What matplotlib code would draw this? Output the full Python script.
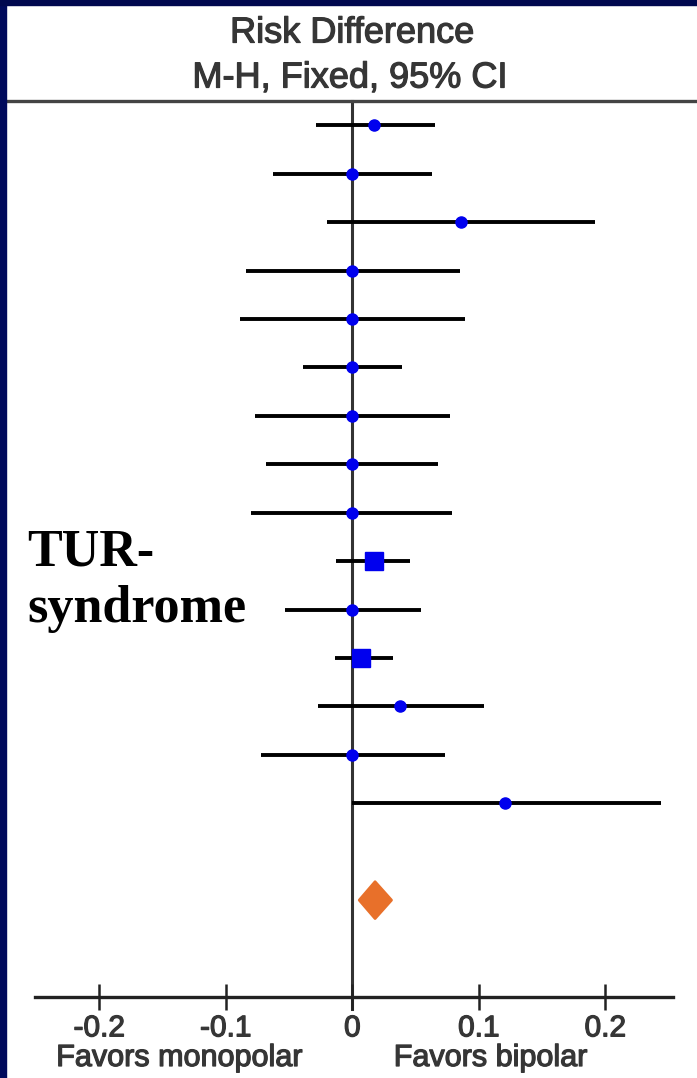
import numpy as np
import matplotlib.pyplot as plt
import matplotlib.patheffects as pe
from matplotlib.patches import Polygon, Rectangle
from matplotlib.lines import Line2D

# study estimates (risk difference) and 95% CI, top to bottom
rd = [0.017, 0.0, 0.086, 0.0, 0.0, 0.0, 0.0, 0.0, 0.0,
      0.017, 0.0, 0.007, 0.038, 0.0, 0.121]
ci_low = [-0.029, -0.063, -0.020, -0.084, -0.089, -0.039, -0.077, -0.068, -0.080,
          -0.013, -0.053, -0.014, -0.027, -0.072, 0.0]
ci_high = [0.065, 0.063, 0.192, 0.085, 0.089, 0.039, 0.077, 0.068, 0.079,
           0.046, 0.054, 0.032, 0.104, 0.073, 0.244]
heavy_studies = [9, 11]  # indices drawn with the larger squares

# pooled estimate
pooled = 0.018
pooled_low = 0.0055
pooled_high = 0.031

ticks = [-0.2, -0.1, 0.0, 0.1, 0.2]
tick_labels = ["-0.2", "-0.1", "0", "0.1", "0.2"]

W, H = 697, 1078
fig = plt.figure(figsize=(W / 100, H / 100), dpi=100)
fig.patch.set_facecolor("white")

sans = ["Liberation Sans", "DejaVu Sans"]
grey = "#363636"
thick = [pe.withStroke(linewidth=0.9, foreground=grey)]


def fx(px):
    return px / W


def fy(py):
    return 1 - py / H


# axes box: axis line from x=35 to 673 px, header line at 101 px, axis at 997 px
ax = fig.add_axes([fx(35), fy(997), fx(673) - fx(35), fy(101) - fy(997)])
ax.set_xlim(-0.2508, 0.2535)
ax.set_ylim(19, 0.5)
ax.set_facecolor("none")

for s in ["top", "left", "right"]:
    ax.spines[s].set_visible(False)
ax.spines["bottom"].set_linewidth(2.4)
ax.spines["bottom"].set_color("#222222")
ax.set_yticks([])
ax.set_xticks(ticks)
ax.set_xticklabels(tick_labels)
ax.tick_params(axis="x", direction="inout", length=19, width=1.8, color="#222222",
               pad=3, labelsize=21.5, labelcolor=grey)
for lab in ax.get_xticklabels():
    lab.set_family(sans)
    lab.set_path_effects(thick)

# line of no effect
ax.axvline(0, ymin=-0.013, ymax=1, color="#333333", lw=2.2, clip_on=False, zorder=1)

rows = np.arange(1, len(rd) + 1)
for i, r in enumerate(rows):
    ax.plot([ci_low[i], ci_high[i]], [r, r], color="black", lw=2.8,
            solid_capstyle="butt", zorder=2)
    if i in heavy_studies:
        ax.plot(rd[i], r, marker="s", ms=13, color="#0000ee", mec="#0000ee", zorder=3)
    else:
        ax.plot(rd[i], r, marker="o", ms=8, color="#0000ee", mec="#0000ee", zorder=3)

# pooled diamond
prow = len(rd) + 2
dia = Polygon([(pooled_low, prow), (pooled, prow - 0.38), (pooled_high, prow),
               (pooled, prow + 0.38)], closed=True, facecolor="#e8702a",
              edgecolor="#e8702a", lw=2, joinstyle="round", zorder=3)
ax.add_patch(dia)

# favours labels under the axis
lab_y = -(1058 - 997) / 896
ax.text(-0.137, lab_y, "Favors monopolar", transform=ax.get_xaxis_transform(),
        ha="center", va="center", fontsize=22, color=grey, family=sans,
        path_effects=thick)
ax.text(0.109, lab_y, "Favors bipolar", transform=ax.get_xaxis_transform(),
        ha="center", va="center", fontsize=22, color=grey, family=sans,
        path_effects=thick)

# header
fig.text(fx(352), fy(33), "Risk Difference", ha="center", va="center",
         fontsize=26, color=grey, family=sans, path_effects=thick)
fig.text(fx(350), fy(78), "M-H, Fixed, 95% CI", ha="center", va="center",
         fontsize=26, color=grey, family=sans, path_effects=thick)
fig.add_artist(Line2D([fx(7), 1], [fy(101), fy(101)], color="#444444", lw=2.4))

# side label
fig.text(fx(27), fy(565), "TUR-", ha="left", va="baseline", fontsize=37.5,
         fontweight="bold", color="black", family=["Liberation Serif", "DejaVu Serif"])
fig.text(fx(27), fy(622), "syndrome", ha="left", va="baseline", fontsize=37.5,
         fontweight="bold", color="black", family=["Liberation Serif", "DejaVu Serif"])

# navy slide border (left and top)
fig.add_artist(Rectangle((0, 0), fx(6), 1, transform=fig.transFigure,
                         color="#000a5c", zorder=10))
fig.add_artist(Rectangle((0, fy(5)), 1, fy(0) - fy(5), transform=fig.transFigure,
                         color="#00084f", zorder=10))

fig.savefig("out.png", dpi=100)
